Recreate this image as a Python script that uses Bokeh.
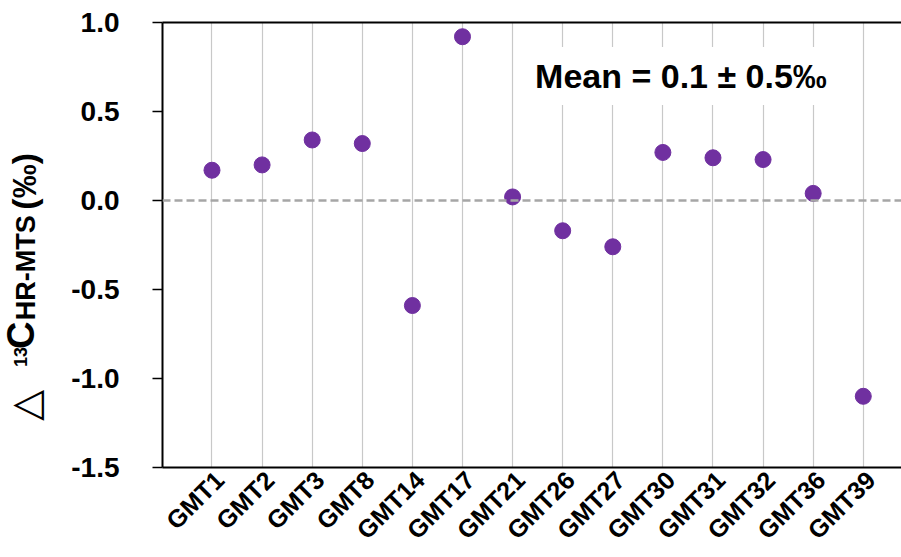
import math
from bokeh.plotting import figure
from bokeh.layouts import row
from bokeh.models import Range1d, FixedTicker, LinearAxis, Label, Span, NumeralTickFormatter
from bokeh.core.properties import value
from bokeh.embed import file_html
from bokeh.resources import INLINE

# ---- data ----
categories = ["GMT1", "GMT2", "GMT3", "GMT8", "GMT14", "GMT17", "GMT21",
              "GMT26", "GMT27", "GMT30", "GMT31", "GMT32", "GMT36", "GMT39"]
delta13c = [0.17, 0.20, 0.34, 0.32, -0.59, 0.92, 0.02,
            -0.17, -0.26, 0.27, 0.24, 0.23, 0.04, -1.10]
y_ticks = [-1.5, -1.0, -0.5, 0.0, 0.5, 1.0]
mean_text = "Mean = 0.1 \u00b1 0.5\u2030"
y_label_parts = ["\u25b3", "13", "C", "HR-MTS", "(\u2030)"]

FONT = "Liberation Sans"
H = 557
Y_LO, Y_HI = -1.5, 1.0
PX_PER_UNIT = 178.8          # frame height / y span
FRAME_TOP = 22
x_pos = list(range(len(categories)))
label_shift = 0.15
label_ticks = [i + label_shift for i in x_pos]


def px_to_y(py):
    """vertical pixel (from top of canvas) -> y value, for the title pieces"""
    return Y_HI - (py - FRAME_TOP) / PX_PER_UNIT


# ---- side panel holding the rotated y-axis title (frame aligned with main) ----
lab = figure(width=50, height=H, output_backend="svg", toolbar_location=None,
             x_range=Range1d(0, 50), y_range=Range1d(Y_LO, Y_HI),
             x_axis_type=None, y_axis_type=None,
             min_border_left=0, min_border_right=0, min_border_top=FRAME_TOP,
             min_border_bottom=H - 469,
             background_fill_color="white", border_fill_color="white")
lab.outline_line_color = None
lab.grid.visible = False
# (centre x in px, start y in px from top, size, style, font)
layout_parts = [
    (24, 422, "40px", "normal", "DejaVu Sans"),
    (20, 368, "18px", "bold", FONT),
    (20, 350, "38px", "bold", FONT),
    (25, 321, "27px", "bold", FONT),
    (23, 210, "34px", "bold", FONT),
]
for txt, (cx, ty, fs, st, fn) in zip(y_label_parts, layout_parts):
    lab.text(x=[cx], y=[px_to_y(ty)], text=[txt], angle=math.pi / 2,
             text_font=value(fn), text_font_style=st,
             text_font_size=value(fs), text_color="black",
             text_align="left", text_baseline="middle")

# ---- main plot ----
p = figure(width=851, height=H, output_backend="svg", toolbar_location=None,
           x_range=Range1d(-0.988, 13.763), y_range=Range1d(Y_LO, Y_HI),
           min_border_left=112, min_border_top=FRAME_TOP,
           min_border_bottom=H - 469, min_border_right=0,
           background_fill_color="white", border_fill_color="white")
p.outline_line_color = None

p.xaxis.ticker = FixedTicker(ticks=label_ticks)
p.xaxis.major_label_overrides = {t: c for t, c in zip(label_ticks, categories)}
p.xaxis.major_label_orientation = math.pi / 4
p.xaxis.major_label_text_font = FONT
p.xaxis.major_label_text_font_style = "bold"
p.xaxis.major_label_text_font_size = "25px"
p.xaxis.major_label_text_color = "black"
p.xaxis.major_label_standoff = 2
p.xaxis.major_tick_line_color = None
p.xaxis.minor_tick_line_color = None
p.xaxis.axis_line_width = 2
p.xaxis.axis_line_color = "black"

p.yaxis.ticker = FixedTicker(ticks=y_ticks)
p.yaxis.formatter = NumeralTickFormatter(format="0.0")
p.yaxis.major_label_text_font = FONT
p.yaxis.major_label_text_font_style = "bold"
p.yaxis.major_label_text_font_size = "28px"
p.yaxis.major_label_text_color = "black"
p.yaxis.major_label_standoff = 33
p.yaxis.major_tick_out = 10
p.yaxis.major_tick_in = 0
p.yaxis.major_tick_line_width = 1.5
p.yaxis.minor_tick_line_color = None
p.yaxis.axis_line_width = 2
p.yaxis.axis_line_color = "black"

top = LinearAxis(ticker=FixedTicker(ticks=[]), major_tick_line_color=None,
                 minor_tick_line_color=None, axis_line_width=2,
                 axis_line_color="black", major_label_standoff=0)
p.add_layout(top, "above")

p.ygrid.visible = False
p.xgrid.ticker = FixedTicker(ticks=x_pos)
p.xgrid.grid_line_color = "#c8c8c8"
p.xgrid.grid_line_width = 1.2

p.add_layout(Span(location=0, dimension="width", line_color="#a6a6a6",
                  line_width=2.5, line_dash="8 4"))

p.scatter(x_pos, delta13c, size=16, color="#7030a0", line_color="#7030a0")

p.add_layout(Label(x=6.25, y=0.70, text=mean_text, text_font=FONT,
                   text_font_style="bold", text_font_size="34px",
                   text_color="black", text_baseline="alphabetic",
                   text_align="left", background_fill_color="white",
                   padding=10))

open("out.html", "w").write(file_html(row(lab, p), INLINE))
